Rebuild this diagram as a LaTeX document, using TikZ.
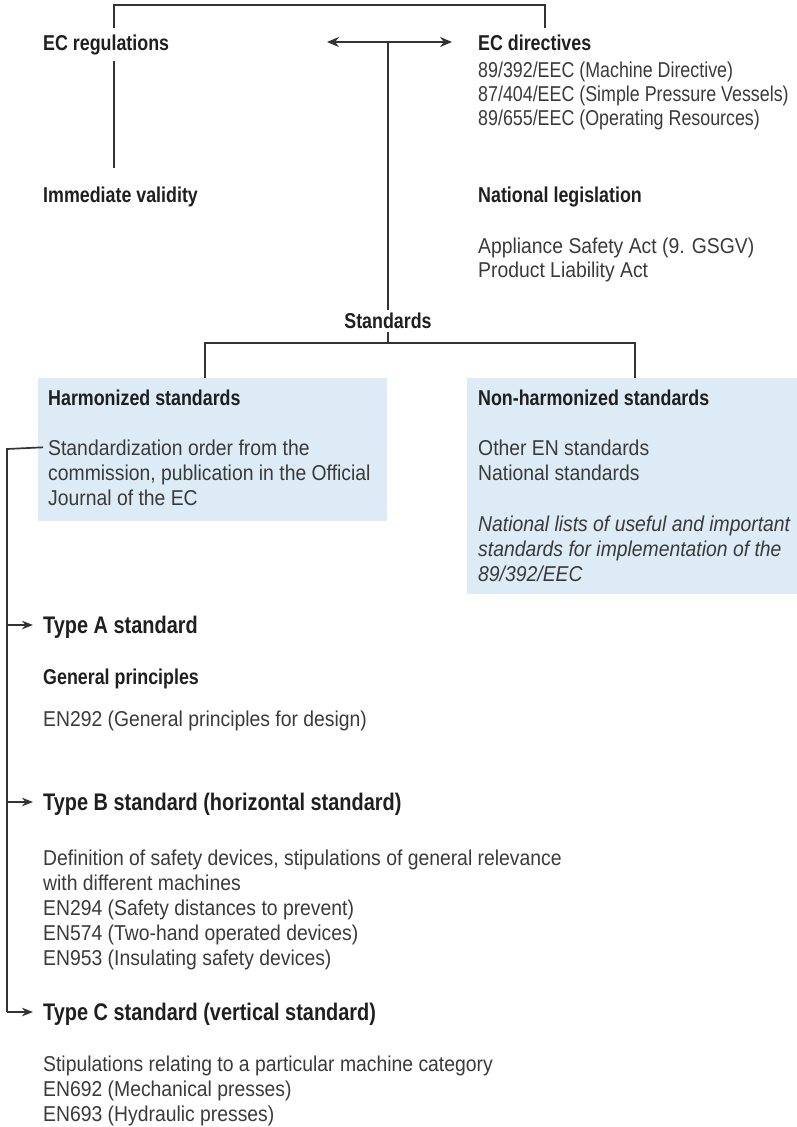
\documentclass[tikz,border=0pt]{standalone}
\usepackage{fontspec}
\newfontfamily\bodyf{Liberation Sans}[FakeStretch=0.9]
\newfontfamily\narrowf{Liberation Sans}[FakeStretch=0.83]
\newfontfamily\headf{Liberation Sans}[FakeStretch=0.83]
\usetikzlibrary{arrows.meta}
\definecolor{txt}{HTML}{3A3A3A}
\definecolor{hdc}{HTML}{1F1F1F}
\definecolor{ln}{HTML}{333333}
\definecolor{boxc}{HTML}{DCEBF6}
\tikzset{
  body/.style={anchor=base west, inner sep=0pt, text=txt, font=\bodyf\fontsize{21.5}{24.5}\selectfont},
  dirline/.style={anchor=base west, inner sep=0pt, text=txt, font=\narrowf\fontsize{21.5}{24.5}\selectfont},
  ital/.style={anchor=base west, inner sep=0pt, text=txt, font=\bodyf\itshape\fontsize{21.5}{24.5}\selectfont},
  head/.style={anchor=base west, inner sep=0pt, text=hdc, font=\headf\bfseries\fontsize{21.5}{24.5}\selectfont},
  bighead/.style={anchor=base west, inner sep=0pt, text=hdc, font=\headf\bfseries\fontsize{24}{28}\selectfont},
  conn/.style={draw=ln, line width=1.7pt},
  tip/.style={-{Stealth[length=11pt,width=8.5pt]}},
  dtip/.style={{Stealth[length=12pt,width=10pt]}-{Stealth[length=12pt,width=10pt]}},
  panel/.style={fill=boxc, draw=none, inner sep=0pt, anchor=north west},
}
\begin{document}
\begin{tikzpicture}[x=1pt,y=-1pt]
\useasboundingbox (0,0) rectangle (797,1127);

% panels
\node[panel, minimum width=349pt, minimum height=143pt] (hbox) at (38,378) {};
\node[panel, minimum width=330pt, minimum height=216pt] (nbox) at (467,378) {};

% top level
\node[head] (ecreg) at (43,50.7) {EC regulations};
\node[head] (ecdir) at (478,50.7) {EC directives};
\foreach \t [count=\i from 0] in {89/392/EEC (Machine Directive),87/404/EEC (Simple Pressure Vessels),89/655/EEC (Operating Resources)}
  \node[dirline] (dir\i) at (478,77+24*\i) {\t};
\node[head] (imm) at (43,202) {Immediate validity};
\node[head] (natl) at (478,202) {National legislation};
\node[body] (act1) at (478,253) {Appliance Safety Act (9. GSGV)};
\node[body] (act2) at (478,277) {Product Liability Act};
\node[head, anchor=base, inner sep=2.5pt] (std) at (388,328.7) {Standards};

% boxes content
\node[head] (harm) at (48,405) {Harmonized standards};
\node[body] (so1) at (48,455) {Standardization order from the};
\node[body] (so2) at (48,480) {commission, publication in the Official};
\node[body] (so3) at (48,505) {Journal of the EC};
\node[head] (nonh) at (478,405) {Non-harmonized standards};
\node[body] (oth1) at (478,455) {Other EN standards};
\node[body] (oth2) at (478,480) {National standards};
\node[ital] (lst1) at (478,531) {National lists of useful and important};
\node[ital] (lst2) at (478,556) {standards for implementation of the};
\node[ital] (lst3) at (478,581) {89/392/EEC};

% types
\node[bighead] (tA) at (43,633.6) {Type A standard};
\node[head] (gp) at (43,684) {General principles};
\node[body] (en292) at (43,726) {EN292 (General principles for design)};
\node[bighead] (tB) at (43,810.6) {Type B standard (horizontal standard)};
\foreach \t [count=\i from 0] in {{Definition of safety devices, stipulations of general relevance},with different machines,EN294 (Safety distances to prevent),EN574 (Two-hand operated devices),EN953 (Insulating safety devices)}
  \node[body] (tb\i) at (43,865+25*\i) {\t};
\node[bighead] (tC) at (43,1020.6) {Type C standard (vertical standard)};
\foreach \t [count=\i from 0] in {Stipulations relating to a particular machine category,EN692 (Mechanical presses),EN693 (Hydraulic presses)}
  \node[body] (tc\i) at (43,1071+25*\i) {\t};

% coordinates for connectors
\coordinate (brL) at (114,28);
\coordinate (brR) at (545,28);
\coordinate (brT) at (0,5);
\coordinate (regA) at (114,61);
\coordinate (regB) at (114,168);
\coordinate (arL) at (327,42);
\coordinate (arR) at (452,42);
\coordinate (arM) at (388,42);
\coordinate (hl) at (205,343);
\coordinate (hr) at (635,343);
\coordinate (lc) at (7,449);
\coordinate (aA) at (7,625);
\coordinate (aB) at (7,802);
\coordinate (aC) at (7,1012);

% connectors
\draw[conn] (brL) -- (brL |- brT) -- (brR |- brT) -- (brR);
\draw[conn] (regA) -- (regB);
\draw[conn, dtip] (arL) -- (arR);
\draw[conn] (arM) -- (std.north);
\draw[conn] (std.south) -- (std.south |- hl);
\draw[conn] (hbox.north -| hl) -- (hl) -- (hr) -- (nbox.north -| hr);
\draw[conn] ([xshift=-5pt]so1.west) -- (lc) -- (aC);
\draw[conn, tip, shorten >=10pt] (aA) -- (aA -| tA.west);
\draw[conn, tip, shorten >=10pt] (aB) -- (aB -| tB.west);
\draw[conn, tip, shorten >=10pt] (aC) -- (aC -| tC.west);
\end{tikzpicture}
\end{document}
